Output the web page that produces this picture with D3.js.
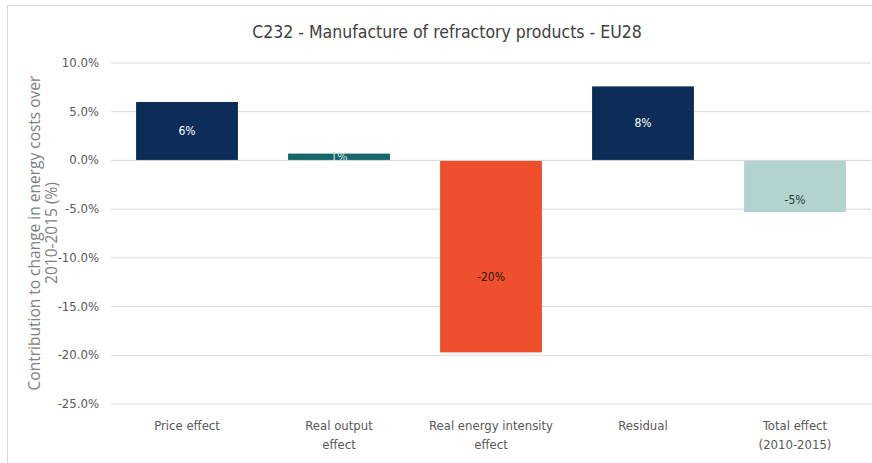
<!DOCTYPE html>
<html lang="en">
<head>
<meta charset="utf-8">
<title>C232 - Manufacture of refractory products - EU28</title>
<script src="https://d3js.org/d3.v7.min.js"></script>
<style>
  body { margin: 0; background: #fff; }
  .narrow { font-family: "Liberation Sans Narrow", "DejaVu Sans Condensed", "Roboto Condensed", "DejaVu Sans", sans-serif; }
</style>
</head>
<body>
<script>
"use strict";

// data
const categories = ["Price effect", "Real output effect", "Real energy intensity effect", "Residual", "Total effect (2010-2015)"];
const catLines = [["Price effect"], ["Real output", "effect"], ["Real energy intensity", "effect"], ["Residual"], ["Total effect", "(2010-2015)"]];
const values = [6.0, 0.7, -19.7, 7.6, -5.3];
const barLabels = ["6%", "1%", "-20%", "8%", "-5%"];
const barColors = ["#0b2d57", "#17666a", "#ef4f2d", "#0b2d57", "#b3d3d0"];
const labelColors = ["#fff", "#cfe3e2", "#2a1a14", "#fff", "#2a3a3a"];
const yTicks = [10, 5, 0, -5, -10, -15, -20, -25];

const w = 872, h = 463;
const svg = d3.select("body").append("svg").attr("width", w).attr("height", h);

// outer frame
svg.append("rect").attr("x", 7.5).attr("y", 5.5).attr("width", w).attr("height", h + 10)
  .attr("fill", "#fff").attr("stroke", "#d9d9d9");

const x = d3.scaleBand().domain(categories).range([111, 871]).paddingInner(0.33).paddingOuter(0.165);
const y = d3.scaleLinear().domain([-25, 10]).range([404, 63]);

// gridlines
svg.append("g").selectAll("line").data(yTicks).enter().append("line")
  .attr("x1", 111).attr("x2", 871)
  .attr("y1", d => y(d)).attr("y2", d => y(d))
  .attr("stroke", "#d9d9d9").attr("stroke-width", 1);

// y tick labels (plain hyphen as minus, like the original)
svg.append("g").attr("class", "narrow").selectAll("text").data(yTicks).enter().append("text")
  .attr("x", 99).attr("y", d => y(d) + 4)
  .attr("text-anchor", "end").attr("font-size", 13).attr("fill", "#595959")
  .text(d => d.toFixed(1) + "%");

// bars
svg.append("g").selectAll("rect").data(values).enter().append("rect")
  .attr("x", (d, i) => x(categories[i]))
  .attr("width", x.bandwidth())
  .attr("y", d => y(Math.max(0, d)))
  .attr("height", d => Math.abs(y(d) - y(0)))
  .attr("fill", (d, i) => barColors[i]);

// zero line on top
svg.append("line").attr("x1", 111).attr("x2", 871).attr("y1", y(0)).attr("y2", y(0))
  .attr("stroke", "#d9d9d9");

// bar value labels
function labelY(d) {
  const mid = (y(d) + y(0)) / 2;
  if (d >= 0) return mid + 4;
  return Math.min(mid + 25, y(d) - 8);
}
svg.append("g").attr("class", "narrow").selectAll("text").data(values).enter().append("text")
  .attr("x", (d, i) => x(categories[i]) + x.bandwidth() / 2)
  .attr("y", labelY)
  .attr("text-anchor", "middle").attr("font-size", 12)
  .attr("fill", (d, i) => labelColors[i])
  .text((d, i) => barLabels[i]);

// category labels
const cat = svg.append("g").attr("class", "narrow").selectAll("text").data(categories).enter().append("text")
  .attr("x", d => x(d) + x.bandwidth() / 2)
  .attr("y", 430)
  .attr("text-anchor", "middle").attr("font-size", 13).attr("fill", "#595959");
cat.selectAll("tspan").data((d, i) => catLines[i]).enter().append("tspan")
  .attr("x", function () { return d3.select(this.parentNode).attr("x"); })
  .attr("dy", (d, i) => i === 0 ? 0 : 19)
  .text(d => d);

// title
svg.append("text").attr("class", "narrow")
  .attr("x", 447).attr("y", 38).attr("text-anchor", "middle")
  .attr("font-size", 17.5).attr("fill", "#404040")
  .text("C232 - Manufacture of refractory products - EU28");

// y axis title
const yt = svg.append("text")
  .attr("transform", "translate(40,233) rotate(-90)")
  .attr("text-anchor", "middle")
  .attr("font-family", "'Open Sans', sans-serif").attr("font-size", 15.5).attr("fill", "#7f7f7f");
yt.append("tspan").attr("x", 0).attr("dy", 0).text("Contribution to change in energy costs over");
yt.append("tspan").attr("x", 0).attr("dy", 17).text("2010-2015 (%)");
</script>
</body>
</html>
